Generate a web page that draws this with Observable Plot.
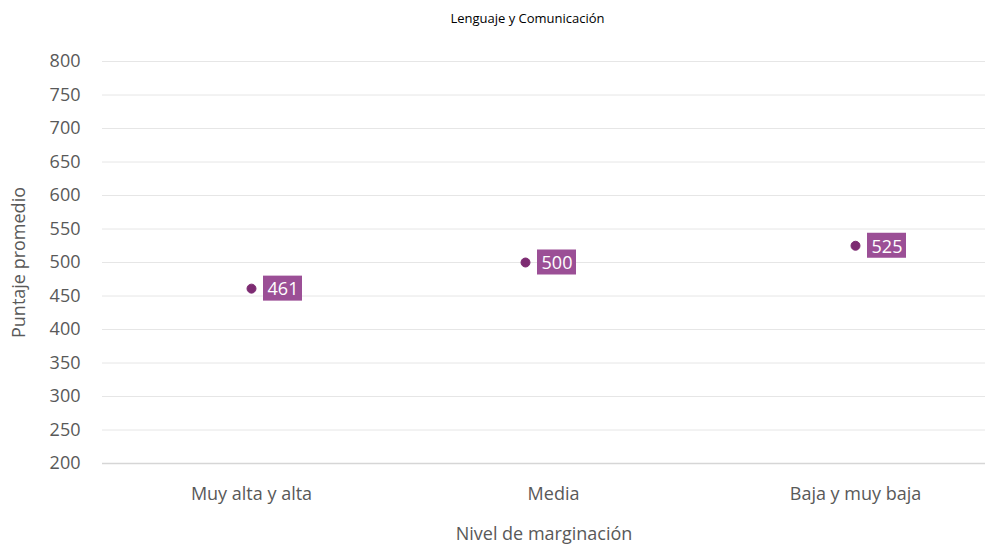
<!DOCTYPE html>
<html><head><meta charset="utf-8">
<script src="https://cdn.jsdelivr.net/npm/d3@7"></script>
<script src="https://cdn.jsdelivr.net/npm/@observablehq/plot@0.6"></script>
<style>
body{margin:0;background:#fff;font-family:"Open Sans",sans-serif;}
#title{height:26px;line-height:36px;text-align:center;font-size:13px;color:#000;padding-left:58px;}
#chart svg{display:block;}
</style></head>
<body>
<div id="title">Lenguaje y Comunicación</div>
<div id="chart"></div>
<script>
const categories = ["Muy alta y alta", "Media", "Baja y muy baja"];
const values = [461, 500, 525];
const yTicks = [200, 250, 300, 350, 400, 450, 500, 550, 600, 650, 700, 750, 800];

const data = categories.map((c, i) => ({cat: c, val: values[i]}));
const txt = "#595959";

// In the reference the middle marker sits slightly left of its category tick
function pointMarks(rows, shift) {
  return [
    Plot.dot(rows, {x: "cat", y: "val", r: 4.5, dx: shift, fill: "#7d2b72", stroke: "#7d2b72", strokeWidth: 1}),
    Plot.rect(rows, {x1: "cat", x2: "cat", y1: "val", y2: "val",
      insetLeft: 12 + shift, insetRight: -51 - shift, insetTop: -12.5, insetBottom: -12.5, fill: "#9b4f96"}),
    Plot.text(rows, {x: "cat", y: "val", text: d => String(d.val), dx: 31.5 + shift, dy: 1,
      fill: "#fff", fontSize: 18, textAnchor: "middle"})
  ];
}

const plot = Plot.plot({
  width: 997,
  height: 518,
  marginLeft: 102,
  marginRight: 12,
  marginTop: 35,
  marginBottom: 81,
  style: {fontFamily: "Open Sans, sans-serif", background: "#fff"},
  x: {type: "point", domain: categories, range: [251, 855], padding: 0},
  y: {domain: [200, 800]},
  marks: [
    Plot.ruleY(yTicks.filter(d => d > 200), {stroke: "#e6e6e6", strokeWidth: 1}),
    Plot.ruleY([200], {stroke: "#d6d6d6", strokeWidth: 1.3}),
    Plot.axisY(yTicks, {tickSize: 0, tickPadding: 22, fontSize: 18, color: txt,
      label: "Puntaje promedio", labelAnchor: "center", labelArrow: "none", labelOffset: 90}),
    Plot.axisX({tickSize: 0, tickPadding: 24, fontSize: 18, color: txt,
      label: "Nivel de marginación", labelAnchor: "center", labelArrow: "none", labelOffset: 76}),
    ...pointMarks(data.filter(d => d.cat !== "Media"), 0),
    ...pointMarks(data.filter(d => d.cat === "Media"), -28)
  ]
});
document.getElementById("chart").appendChild(plot);
</script>
</body></html>
